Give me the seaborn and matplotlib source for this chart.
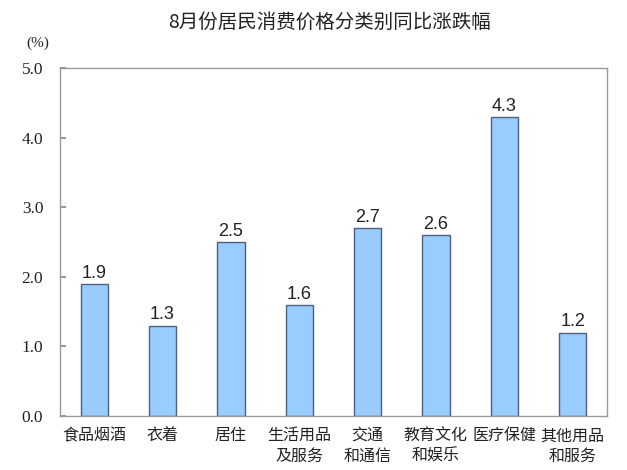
import matplotlib
matplotlib.use("Agg")
import matplotlib.pyplot as plt
import seaborn as sns
import pandas as pd

categories = ["食品烟酒", "衣着", "居住", "生活用品\n及服务", "交通\n和通信", "教育文化\n和娱乐", "医疗保健", "其他用品\n和服务"]
values = [1.9, 1.3, 2.5, 1.6, 2.7, 2.6, 4.3, 1.2]
yticks = [0.0, 1.0, 2.0, 3.0, 4.0, 5.0]
title = "8月份居民消费价格分类别同比涨跌幅"
unit = "(%)"

sns.set_theme(style="white")
plt.rcParams['font.family'] = ['Noto Sans CJK SC', 'DejaVu Sans']

df = pd.DataFrame({"cat": categories, "val": values})

fig = plt.figure(figsize=(6.27, 4.70), dpi=100)
ax = fig.add_axes([0.0957, 0.1149, 0.872, 0.740])
sns.barplot(data=df, x="cat", y="val", ax=ax, color="#99CCFF", saturation=1,
            width=0.4, edgecolor="#4F5F7F", linewidth=1.0)

ax.set_ylim(0, 5.0)
ax.set_xlim(-0.5, len(categories) - 0.5)
ax.set_yticks(yticks)
ax.set_yticklabels([f"{v:.1f}" for v in yticks], family="Liberation Serif", fontsize=12.5, color="#222222")
ax.set_xlabel("")
ax.set_ylabel("")
ax.tick_params(axis="x", length=0, labelsize=11.5, pad=8)
ax.tick_params(axis="y", direction="in", length=4, color="#888888", pad=12, left=True)
for lbl in ax.get_xticklabels():
    lbl.set_linespacing(1.3)
    lbl.set_color("#222222")
for s in ax.spines.values():
    s.set_color("#999999")
    s.set_linewidth(1.0)

for i, v in enumerate(values):
    ax.text(i, v + 0.03, f"{v:.1f}", ha="center", va="bottom", fontsize=13,
            family="Liberation Sans", color="#222222")

fig.text(0.525, 0.953, title, ha="center", va="center", fontsize=14, color="#222222", fontweight="medium")
fig.text(0.060, 0.907, unit, ha="center", va="center", fontsize=11, family="Liberation Serif", color="#222222")

fig.savefig("out.png", dpi=100)
